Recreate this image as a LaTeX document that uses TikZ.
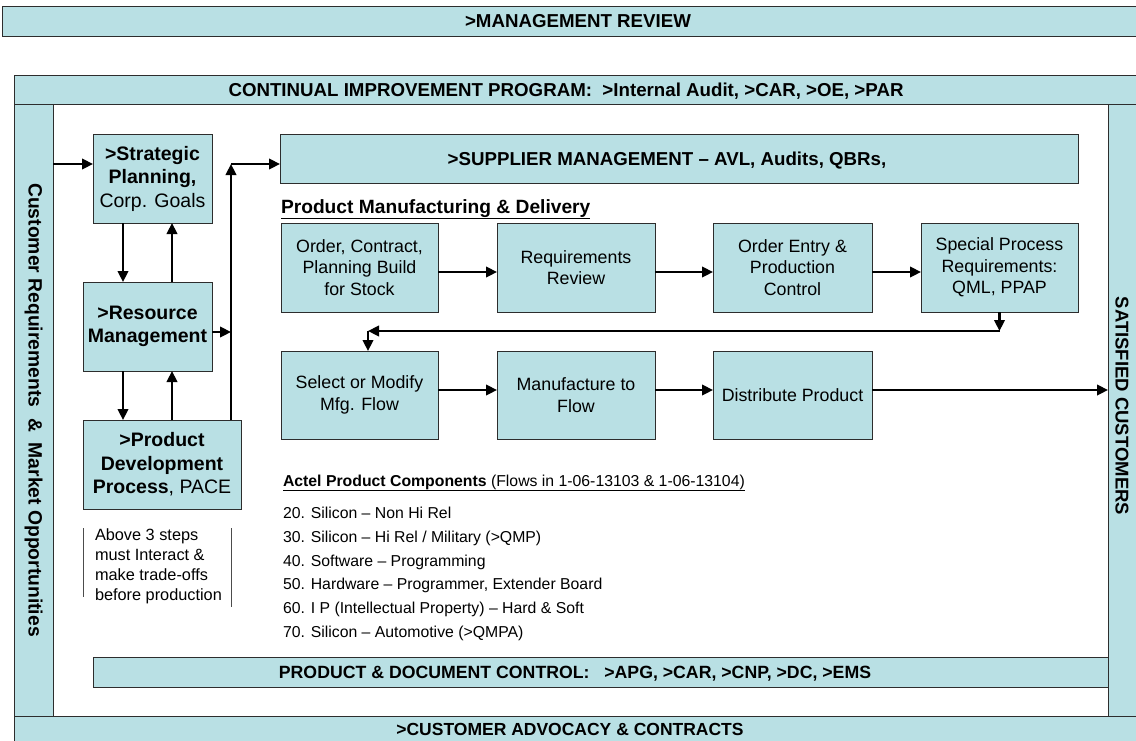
\documentclass[tikz,border=0pt]{standalone}
\usepackage{fontspec}
\setmainfont{Liberation Sans}
\usetikzlibrary{arrows.meta}
\definecolor{boxfill}{RGB}{185,224,228}
\definecolor{boxline}{RGB}{45,45,45}
\newcommand\fsz[2]{\fontsize{#1}{#2}\selectfont}
\begin{document}
\begin{tikzpicture}[x=1pt,y=-1pt,
  every node/.style={inner sep=0pt, outer sep=0pt},
  panel/.style={draw=boxline, line width=0.9pt, fill=boxfill},
  stepbox/.style={panel, minimum width=157pt, minimum height=89pt, align=center, font=\fsz{17.8}{21.6}},
  leftbox/.style={panel, minimum height=89pt, align=center, font=\fsz{19.5}{23.5}},
  bartext/.style={font=\bfseries\fsz{18.7}{22}},
  arr/.style={line width=2.4pt, -{Triangle[length=11pt,width=10.5pt]}},
  thinline/.style={line width=0.8pt, draw=black!70}
]
\useasboundingbox (0,0) rectangle (1136,740);
\clip (0,0) rectangle (1136,740);

% top bar
\node[panel, minimum width=1138pt, minimum height=30pt] (mgmt) at (571,21) {};
\node[bartext, anchor=base] at (578,27.7) {>MANAGEMENT REVIEW};

% frame bands
\node[panel, minimum width=1126pt, minimum height=29pt] (cip) at (577,89.5) {};
\node[bartext, anchor=base] at (566,96.2) {CONTINUAL IMPROVEMENT PROGRAM:\ \ >Internal Audit, >CAR, >OE, >PAR};
\node[panel, minimum width=39pt, minimum height=612pt] (custband) at (33.5,410) {};
\node[bartext, rotate=-90, font=\bfseries\fsz{19.3}{22}] at (33.5,410) {Customer Requirements\ \ \&\ \ Market Opportunities};
\node[panel, minimum width=1015pt, minimum height=30pt] (pdc) at (600.5,672) {};
\node[bartext, anchor=base, font=\bfseries\fsz{17.7}{22}] at (575,678.5) {PRODUCT \& DOCUMENT CONTROL:\ \ \ >APG, >CAR, >CNP, >DC, >EMS};
\node[panel, minimum width=32pt, minimum height=612pt] (satband) at (1124,410) {};
\node[bartext, rotate=-90, font=\bfseries\fsz{18.5}{22}] at (1122,406) {SATISFIED CUSTOMERS};
\node[panel, minimum width=1126pt, minimum height=29pt] (advband) at (577,730.5) {};
\node[bartext, anchor=base, font=\bfseries\fsz{17.5}{22}] at (570,735.5) {>CUSTOMER ADVOCACY \& CONTRACTS};

% left column
\node[leftbox, minimum width=119pt] (strat) at (152.5,178.5) {\textbf{>Strategic}\\\textbf{Planning,}\\Corp. Goals};
\node[leftbox, minimum width=129pt] (rm) at (147.5,326.5) {\textbf{>Resource}\\\textbf{Management}};
\node[leftbox, minimum width=158pt] (pd) at (162,464.5) {\textbf{>Product}\\\textbf{Development}\\\textbf{Process}, PACE};
\node[anchor=north west, align=left, font=\fsz{16.3}{20}] (note) at (95,529) {Above 3 steps\\must Interact \&\\make trade-offs\\before production};
\draw[thinline] (83,528) -- (83,597);
\draw[thinline] (231,528) -- (231,607);

% supplier
\node[panel, minimum width=798pt, minimum height=49pt] (sup) at (679,158.5) {};
\node[bartext, anchor=base] at (667,165.7) {>SUPPLIER MANAGEMENT – AVL, Audits, QBRs,};

% product manufacturing
\node[anchor=base west, font=\bfseries\fsz{19.2}{22}] (pmd) at (281,213) {\underline{Product Manufacturing \& Delivery}};
\node[stepbox] (b1) at (359.5,267.5) {Order, Contract,\\Planning Build\\for Stock};
\node[stepbox, minimum width=158pt] (b2) at (576,267.5) {Requirements\\Review};
\node[stepbox, minimum width=159pt] (b3) at (792.5,267.5) {Order Entry \&\\Production\\Control};
\node[stepbox] (b4) at (999.5,267.5) {Special Process\\Requirements:\\QML, PPAP};
\node[stepbox, minimum height=88pt] (b5) at (359.5,395) {Select or Modify\\Mfg. Flow};
\node[stepbox, minimum height=88pt, minimum width=158pt] (b6) at (576,395) {Manufacture to\\Flow};
\node[stepbox, minimum height=88pt, minimum width=159pt] (b7) at (792.5,395) {Distribute Product};

% components
\node[anchor=base west, font=\fsz{15.8}{20}] (actel) at (283,486) {\underline{\textbf{Actel Product Components} (Flows in 1-06-13103 \& 1-06-13104)}};
\node[anchor=north west, align=left, font=\fsz{15.8}{23.8}] (items) at (283,507) {20. Silicon – Non Hi Rel\\30. Silicon – Hi Rel / Military (>QMP)\\40. Software – Programming\\50. Hardware – Programmer, Extender Board\\60. I P (Intellectual Property) – Hard \& Soft\\70. Silicon – Automotive (>QMPA)};

% connectors
\coordinate (xL) at (123,0);
\coordinate (xR) at (172,0);
\coordinate (xV) at (231,0);
\coordinate (vtop) at (231,164);
\coordinate (rmy) at (0,332);
\coordinate (r1) at (0,272);
\coordinate (r2) at (0,390);
\coordinate (r3) at (0,331);
\coordinate (c1) at (b4.south |- r3);
\coordinate (c2) at (368,331);

\draw[arr] (custband.east |- vtop) -- (strat.west |- vtop);
\draw[arr] (xL |- strat.south) -- (xL |- rm.north);
\draw[arr] (xR |- rm.north) -- (xR |- strat.south);
\draw[arr] (xL |- rm.south) -- (xL |- pd.north);
\draw[arr] (xR |- pd.north) -- (xR |- rm.south);
\draw[arr] (xV |- pd.north) -- (vtop);
\draw[arr] (vtop) -- (sup.west |- vtop);
\draw[arr] (rm.east |- rmy) -- (xV |- rmy);

\draw[arr] (b1.east |- r1) -- (b2.west |- r1);
\draw[arr] (b2.east |- r1) -- (b3.west |- r1);
\draw[arr] (b3.east |- r1) -- (b4.west |- r1);
\draw[arr] (b4.south) -- (c1);
\draw[arr] (c1) -- (c2);
\draw[arr] (c2) -- (c2 |- b5.north);
\draw[arr] (b5.east |- r2) -- (b6.west |- r2);
\draw[arr] (b6.east |- r2) -- (b7.west |- r2);
\draw[arr] (b7.east |- r2) -- (satband.west |- r2);
\end{tikzpicture}
\end{document}
